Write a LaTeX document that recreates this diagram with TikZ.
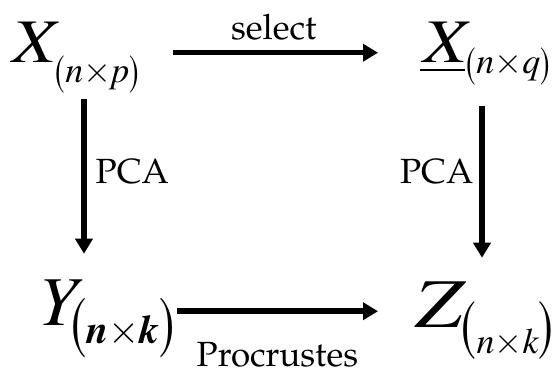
\documentclass[tikz,border=0pt]{standalone}
\usepackage[T1]{fontenc}
\usepackage{amsmath}
\usepackage{mathptmx}
\usepackage{graphicx}
\usepackage{tikz}
\usetikzlibrary{arrows.meta,calc,positioning}
\newcommand{\fsz}[1]{\fontsize{#1}{#1}\selectfont}
\newcommand{\tms}{$\mathord{\times}$}
% narrow upright paren of a given size
\newcommand{\dpar}[2]{\scalebox{.65}[1]{\fsz{#1}\upshape#2}}
% dimension subscript: paren size, inner size, drop, paren shift, inner text
\newcommand{\dimsub}[5]{\raisebox{-#3}{\raisebox{#4}{\dpar{#1}(}{\fsz{#2}#5}\raisebox{#4}{\dpar{#1})}}}

\begin{document}
\begin{tikzpicture}[x=1pt,y=-1pt,
    mat/.style={inner sep=0pt,anchor=base west,font=\itshape},
    lbl/.style={inner sep=0pt,font=\fontfamily{ppl}\fsz{35}},
    flow/.style={-{Triangle[length=15pt,width=17pt]},line width=5.5pt}]
  \useasboundingbox (0,0) rectangle (553,367);

  \node[mat] (X) at (12,62)
    {\scalebox{1.15}[1]{\fsz{62}X}\dimsub{44}{36}{20pt}{-3pt}{n\tms p}};
  \node[mat] (Xsel) at (420,62)
    {\rlap{\rule[-9.3pt]{45pt}{2.5pt}}\hspace{3pt}\scalebox{1.15}[1]{\fsz{62}X}\dimsub{44}{36}{11pt}{-4pt}{n\tms q}};
  \node[mat] (Y) at (38,325)
    {{\fsz{70}Y}\kern-6pt\dimsub{70}{40}{18pt}{-2pt}{\bfseries n\tms k}};
  \node[mat] (Z) at (415,327)
    {\scalebox{1.2}[1]{\fsz{70}Z}\dimsub{68}{36}{26pt}{6pt}{n\tms k}};

  % arrows round the square
  \draw[flow,shorten <=34pt,shorten >=42pt]
    ([yshift=4.75pt]X.east) -- ([yshift=4.75pt]X.east -| Xsel.west)
    node[lbl,pos=.48,above=10pt] (sel) {select};
  \draw[flow,shorten <=5.5pt,shorten >=26pt]
    ([xshift=8.5pt]X.south) -- ([xshift=8.5pt]X.south |- Y.north)
    node[lbl,pos=.42,right=9pt] (pcaL) {PCA};
  \draw[flow,shorten <=20.5pt,shorten >=24pt]
    ([xshift=-3pt]Xsel.south) -- ([xshift=-3pt]Xsel.south |- Z.north)
    node[lbl,pos=.44,left=6pt] (pcaR) {PCA};
  \draw[flow,shorten <=2pt,shorten >=37pt]
    ([yshift=7.5pt]Y.east) -- ([yshift=7.5pt]Y.east -| Z.west)
    node[lbl,pos=0,anchor=north west,xshift=19pt,yshift=-28pt] (proc) {Procrustes};
\end{tikzpicture}
\end{document}
